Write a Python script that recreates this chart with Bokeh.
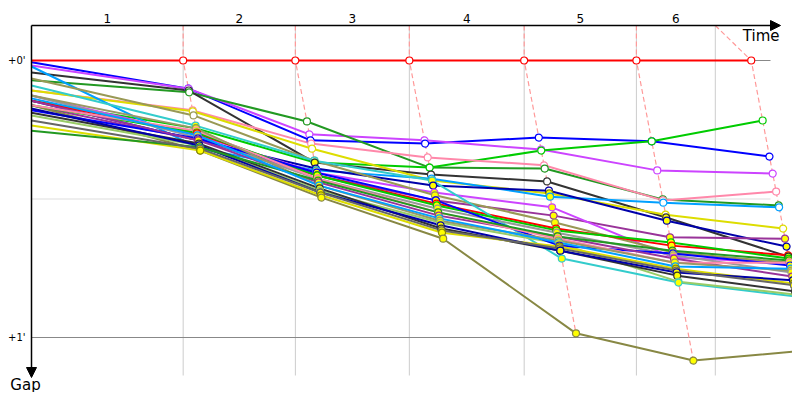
from bokeh.plotting import figure
from bokeh.models import Range1d, ColumnDataSource, Arrow, NormalHead
from bokeh.embed import file_html
from bokeh.resources import INLINE
from bokeh.core.properties import value

# ---- data (times and gaps in seconds) ----
lap_labels = ["1", "2", "3", "4", "5", "6"]
lap_bounds = [0, 173, 301, 431, 562, 690, 780]        # time-axis lap boundaries
leader_times = [0, 173, 301, 431, 562, 690, 821]      # leader passing times
gap_tick_values = [0, 60]
gap_tick_labels = ["+0'", "+1'"]

rider_colors = [
    "#FF0000",  # leader
    "#0000FF", "#CC44FF", "#229922", "#00CC00", "#333333", "#FF88AA",
    "#DDDD00", "#00A0FF", "#0000AA", "#993399", "#CC44FF", "#888844",
    "#999955", "#FF0000", "#33CCCC", "#999999", "#99CC66", "#00CC00",
    "#0000FF", "#993399", "#333333", "#FF88AA", "#DDDD00", "#999966",
    "#0000AA", "#229922", "#00A0FF", "#666666",
]

rider_gaps = [
    [0, 0, 0, 0, 0, 0, 0],
    [0.4, 6.1, 17.3, 18.0, 16.7, 17.5, 20.8],
    [1.1, 6.1, 16.0, 17.3, 19.3, 23.8, 24.5],
    [4.3, 6.9, 13.2, 23.2, 23.4, 30.1, 31.4],
    [8.7, 14.7, 22.1, 23.2, 19.5, 17.5, 13.0],
    [2.6, 6.5, 22.1, 24.7, 26.2, 34.0, 42.5],
    [6.5, 10.8, 18.0, 21.0, 22.7, 30.3, 28.4],
    [6.5, 11.0, 19.1, 26.0, 28.8, 33.4, 36.4],
    [1.3, 19.1, 23.8, 25.6, 29.5, 30.8, 31.8],
    [8.7, 17.3, 23.4, 27.1, 28.2, 34.7, 40.3],
    [9.7, 17.3, 24.9, 30.3, 33.6, 38.3, 38.6],
    [7.6, 16.2, 24.3, 28.6, 31.8, 42.7, 43.8],
    [9.7, 19.5, 29.7, 38.6, 59.1, 65.0, 62.8],
    [3.9, 11.9, 21.7, 29.2, 35.1, 41.6, 43.8],
    [8.7, 15.8, 24.9, 31.0, 36.4, 40.1, 42.2],
    [5.4, 14.1, 21.7, 26.0, 42.9, 48.1, 51.1],
    [7.6, 16.7, 25.6, 32.1, 37.3, 42.2, 45.9],
    [11.9, 18.4, 28.2, 35.1, 39.6, 47.9, 50.7],
    [9.7, 15.6, 24.9, 31.4, 36.8, 39.4, 42.9],
    [10.8, 16.9, 24.3, 30.3, 40.1, 41.8, 44.4],
    [8.7, 17.3, 26.4, 33.6, 38.1, 42.9, 46.8],
    [11.3, 18.0, 27.7, 36.4, 41.2, 46.6, 50.0],
    [9.7, 15.2, 25.6, 32.9, 38.6, 43.8, 43.8],
    [14.1, 19.5, 29.2, 37.3, 40.3, 45.1, 48.3],
    [7.6, 14.7, 27.1, 34.7, 39.0, 43.8, 45.5],
    [10.4, 18.4, 28.6, 35.7, 41.2, 45.9, 47.6],
    [15.2, 18.8, 26.0, 32.9, 38.1, 41.2, 43.3],
    [8.2, 16.2, 27.1, 34.2, 39.4, 44.6, 45.1],
    [13.0, 19.1, 28.6, 36.8, 40.7, 45.5, 48.7],
]
white_ranks = 8   # first positions at each checkpoint drawn with open markers

# ---- figure ----
PX_PER_S_X = 52.6 / 60.0
PX_PER_S_Y = 277.0 / 60.0
X0_PX, Y0_PX = 31.0, 60.0
W, H = 792, 392
x_start = (0 - X0_PX) / PX_PER_S_X
x_end = (W - X0_PX) / PX_PER_S_X
y_top = (0 - Y0_PX) / PX_PER_S_Y
y_bot = (H - Y0_PX) / PX_PER_S_Y

p = figure(width=W, height=H, output_backend="svg", toolbar_location=None,
           x_range=Range1d(x_start, x_end), y_range=Range1d(y_bot, y_top),
           min_border=0, min_border_left=0, min_border_right=0,
           min_border_top=0, min_border_bottom=0)
p.xaxis.visible = False
p.yaxis.visible = False
p.xgrid.grid_line_color = None
p.ygrid.grid_line_color = None
p.outline_line_color = None
p.background_fill_color = "white"
p.border_fill_color = "white"

axis_y = (25 - Y0_PX) / PX_PER_S_Y        # top time axis level
grid_bottom = (375 - Y0_PX) / PX_PER_S_Y
line_right = (770 - X0_PX) / PX_PER_S_X
arrow_right = (780 - X0_PX) / PX_PER_S_X
arrow_bottom = (377 - Y0_PX) / PX_PER_S_Y

# vertical lap grid lines
for b in lap_bounds[1:]:
    p.segment(x0=b, y0=axis_y, x1=b, y1=grid_bottom, line_color="#CCCCCC", line_width=1)

# horizontal gap lines
p.segment(x0=0, y0=30, x1=line_right, y1=30, line_color="#DDDDDD", line_width=1)
for g in gap_tick_values:
    p.segment(x0=0, y0=g, x1=line_right, y1=g, line_color="#888888", line_width=1)

# positions of every rider at every checkpoint
n_cp = len(leader_times)
xs_all, ys_all = [], []
for gaps in rider_gaps:
    xs = [leader_times[0]] + [leader_times[k] + gaps[k] for k in range(1, n_cp)]
    xs_all.append(xs)
    ys_all.append(list(gaps))

# dashed checkpoint connectors
for k in range(1, n_cp):
    order = sorted(range(len(rider_gaps)), key=lambda i: rider_gaps[i][k])
    dx = [lap_bounds[k]] + [xs_all[i][k] for i in order]
    dy = [axis_y] + [ys_all[i][k] for i in order]
    p.line(dx, dy, line_color="#FF9999", line_width=1.2, line_dash="5 3")

# rider lines (leader last so it sits on top)
for i in list(range(1, len(rider_gaps))) + [0]:
    p.line(xs_all[i], ys_all[i], line_color=rider_colors[i], line_width=2)

# markers
mx, my, mfill, mline = [], [], [], []
for k in range(1, n_cp):
    order = sorted(range(len(rider_gaps)), key=lambda i: rider_gaps[i][k])
    for rank, i in enumerate(order):
        grouped = rank >= white_ranks
        mx.append(xs_all[i][k]); my.append(rider_gaps[i][k])
        mfill.append("#FFFF00" if grouped else "white")
        c = rider_colors[i]
        mline.append("#888800" if (grouped and c == "#DDDD00") else c)
src = ColumnDataSource(dict(x=mx, y=my, fill=mfill, line=mline))
p.scatter("x", "y", source=src, size=7, marker="circle", fill_color="fill",
          line_color="line", line_width=1.2)

# axes with arrows
p.add_layout(Arrow(end=NormalHead(size=10, fill_color="black", line_color="black"),
                   x_start=0, y_start=axis_y, x_end=arrow_right, y_end=axis_y,
                   line_color="black", line_width=1.5))
p.add_layout(Arrow(end=NormalHead(size=10, fill_color="black", line_color="black"),
                   x_start=0, y_start=axis_y, x_end=0, y_end=arrow_bottom,
                   line_color="black", line_width=1.5))

# lap labels
mids = [(lap_bounds[k] + lap_bounds[k + 1]) / 2 for k in range(len(lap_labels))]
lap_y = (18 - Y0_PX) / PX_PER_S_Y
p.text(x=mids, y=[lap_y] * len(mids), text=lap_labels, text_font=value("DejaVu Sans"),
       text_font_size="12px", text_align="center", text_baseline="middle", text_color="black")

# gap tick labels
lbl_x = (25 - X0_PX) / PX_PER_S_X
p.text(x=[lbl_x] * len(gap_tick_values), y=gap_tick_values, text=gap_tick_labels,
       text_font=value("DejaVu Sans"), text_font_size="10px", text_align="right",
       text_baseline="middle", text_color="black")

# axis titles
p.text(x=[(779 - X0_PX) / PX_PER_S_X], y=[(35 - Y0_PX) / PX_PER_S_Y], text=["Time"],
       text_font=value("DejaVu Sans"), text_font_size="15px", text_align="right",
       text_baseline="middle", text_color="black")
p.text(x=[(25 - X0_PX) / PX_PER_S_X], y=[(384 - Y0_PX) / PX_PER_S_Y], text=["Gap"],
       text_font=value("DejaVu Sans"), text_font_size="15px", text_align="center",
       text_baseline="middle", text_color="black")

open("out.html", "w").write(file_html(p, INLINE))
